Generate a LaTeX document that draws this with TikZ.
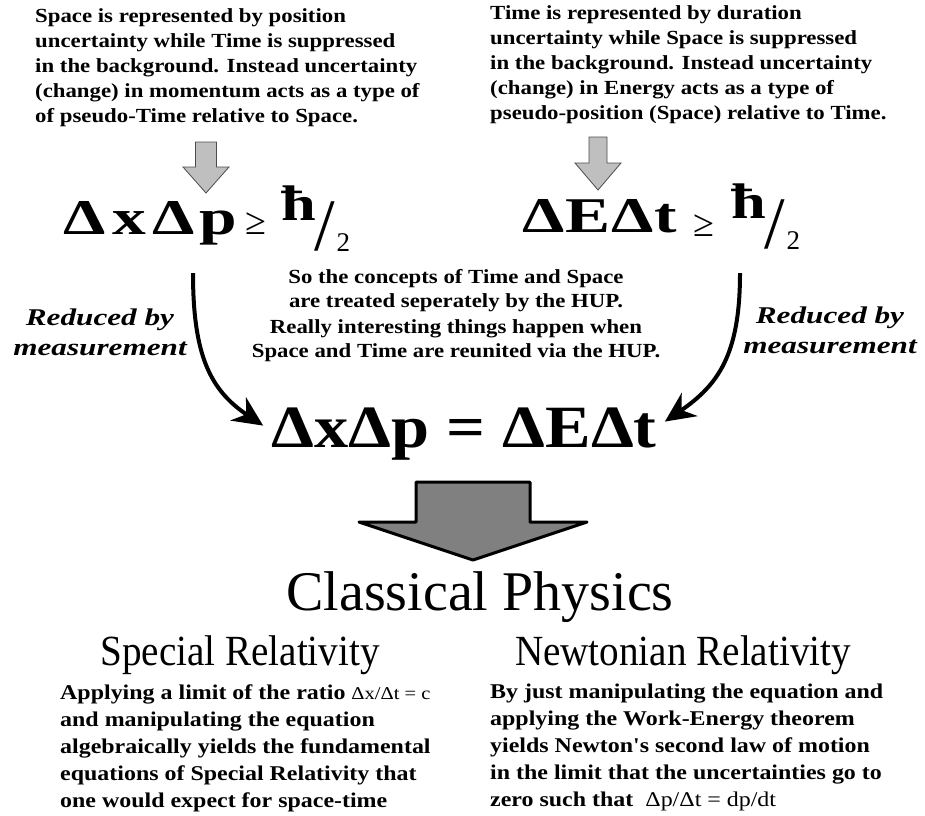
\documentclass[tikz,border=0pt]{standalone}
\usepackage{fontspec}
\setmainfont{Liberation Serif}
\newfontfamily\widefont[FakeStretch=1.14]{Liberation Serif}
\newfontfamily\eqfont[FakeStretch=1.35]{Liberation Serif}
\newfontfamily\hbarfont[FakeStretch=1.25]{Liberation Serif}
\newfontfamily\lblfont[FakeStretch=1.3]{Liberation Serif}
\newfontfamily\headfont[FakeStretch=0.91]{Liberation Serif}
\usetikzlibrary{arrows.meta, calc, positioning}
\tikzset{
  note/.style    = {font=\widefont\bfseries\fontsize{20}{25}\selectfont, align=left, inner sep=0pt},
  midnote/.style = {font=\widefont\bfseries\fontsize{20}{24}\selectfont, align=center, inner sep=0pt},
  ineq/.style    = {font=\eqfont\bfseries\fontsize{50}{50}\selectfont, inner sep=0pt},
  relsign/.style = {font=\fontsize{38}{38}\selectfont, inner sep=0pt},
  hbarsign/.style= {font=\hbarfont\bfseries\fontsize{50}{50}\selectfont, inner sep=0pt},
  bigeq/.style   = {font=\widefont\bfseries\fontsize{60}{60}\selectfont, inner sep=0pt},
  sidelbl/.style = {font=\lblfont\bfseries\itshape\fontsize{24}{30}\selectfont, align=center, inner sep=0pt},
  title/.style   = {font=\fontsize{56}{56}\selectfont, inner sep=0pt},
  subtitle/.style= {font=\headfont\fontsize{43}{43}\selectfont, inner sep=0pt},
  body/.style    = {font=\widefont\bfseries\fontsize{21}{27}\selectfont, align=left, inner sep=0pt},
  curvearrow/.style = {-{Stealth[length=30pt,width=28pt]}, line width=4pt, black},
  smallarrow/.style = {fill=gray!50, draw=black!70, line width=0.8pt},
  bigarrow/.style   = {fill=gray, draw=black, line width=3pt, line join=round},
}
% block arrow pointing down: centre x, top y, shaft half width, head half width, shaft length, head length
\newcommand{\blockarrow}[7]{%
  \draw[#7] (#1-#3,#2) -- (#1+#3,#2) -- (#1+#3,#2+#5) -- (#1+#4,#2+#5)
    -- (#1,#2+#5+#6) -- (#1-#4,#2+#5) -- (#1-#3,#2+#5) -- cycle;
}
% hbar over 2
\newcommand{\hbarhalf}{ħ\hspace{-1pt}\raisebox{-30pt}{\rmfamily\mdseries\fontsize{74}{74}\selectfont /}\hspace{1pt}\raisebox{-31pt}{\rmfamily\mdseries\fontsize{27}{27}\selectfont 2}}

\begin{document}
\begin{tikzpicture}[x=1pt, y=-1pt]
  \useasboundingbox (0,0) rectangle (925,815);

  % the two notes on top
  \node[note, anchor=north west] (spacenote) at (35,8) {Space is represented by position\\
    uncertainty while Time is suppressed\\
    in the background. Instead uncertainty\\
    (change) in momentum acts as a type of\\
    of pseudo-Time relative to Space.};
  \node[note, anchor=north west] (timenote) at (490,5) {Time is represented by duration\\
    uncertainty while Space is suppressed\\
    in the background. Instead uncertainty\\
    (change) in Energy acts as a type of\\
    pseudo-position (Space) relative to Time.};

  \blockarrow{206}{142}{10.5}{23}{25}{26}{smallarrow}
  \blockarrow{598}{137}{9}{23}{26}{27}{smallarrow}

  % the two uncertainty relations
  \node[ineq, anchor=base west] (xp) at (63,234) {Δ\kern7pt x\kern6pt Δ\kern5pt p};
  \node[relsign, anchor=base west] (geL) at (245,234) {≥};
  \node[hbarsign, anchor=base west] (hbarL) at (281,220) {\hbarhalf};
  \node[ineq, anchor=base west] (Et) at (522,232) {Δ\kern1pt E\kern1pt Δ\kern1pt t};
  \node[relsign, anchor=base west] (geR) at (693,236) {≥};
  \node[hbarsign, anchor=base west] (hbarR) at (731,218) {\hbarhalf};

  \node[midnote, anchor=north] (sepnote) at (456,269) {So the concepts of Time and Space\\are treated seperately by the HUP.};
  \node[midnote, anchor=north] (reunote) at (456,319) {Really interesting things happen when\\Space and Time are reunited via the HUP.};

  \node[sidelbl] (redL) at (100,332) {Reduced by\\measurement};
  \node[sidelbl] (redR) at (830,330) {Reduced by\\measurement};

  \node[bigeq, anchor=base] (equal) at (464,447) {ΔxΔp = ΔEΔt};

  \coordinate (startL) at (193,273);
  \coordinate (startR) at (740,273);
  \coordinate (endL) at ($(equal.west)+(-8,-8)$);
  \coordinate (endR) at ($(equal.east)+(8,-12)$);
  \draw[curvearrow] (startL) .. controls (193,355) and (210,390) .. (endL);
  \draw[curvearrow] (startR) .. controls (740,355) and (718,385) .. (endR);

  \blockarrow{473}{482}{57}{114}{40}{38}{bigarrow}

  \node[title, anchor=base] (classic) at (480,610) {Classical Physics};
  \node[subtitle, anchor=base] (special) at (240,665) {Special Relativity};
  \node[subtitle, anchor=base] (newton) at (683,665) {Newtonian Relativity};

  \node[body, anchor=north west] (srtext) at (60,684) {Applying a limit of the ratio {\mdseries\fontsize{18}{18}\selectfont Δx/Δt = c}\\
    and manipulating the equation\\
    algebraically yields the fundamental\\
    equations of Special Relativity that\\
    one would expect for space-time};
  \node[body, anchor=north west] (nrtext) at (490,684) {By just manipulating the equation and\\
    applying the Work-Energy theorem\\
    yields Newton's second law of motion\\
    in the limit that the uncertainties go to\\
    zero such that\ \ {\mdseries Δp/Δt = dp/dt}};
\end{tikzpicture}
\end{document}
